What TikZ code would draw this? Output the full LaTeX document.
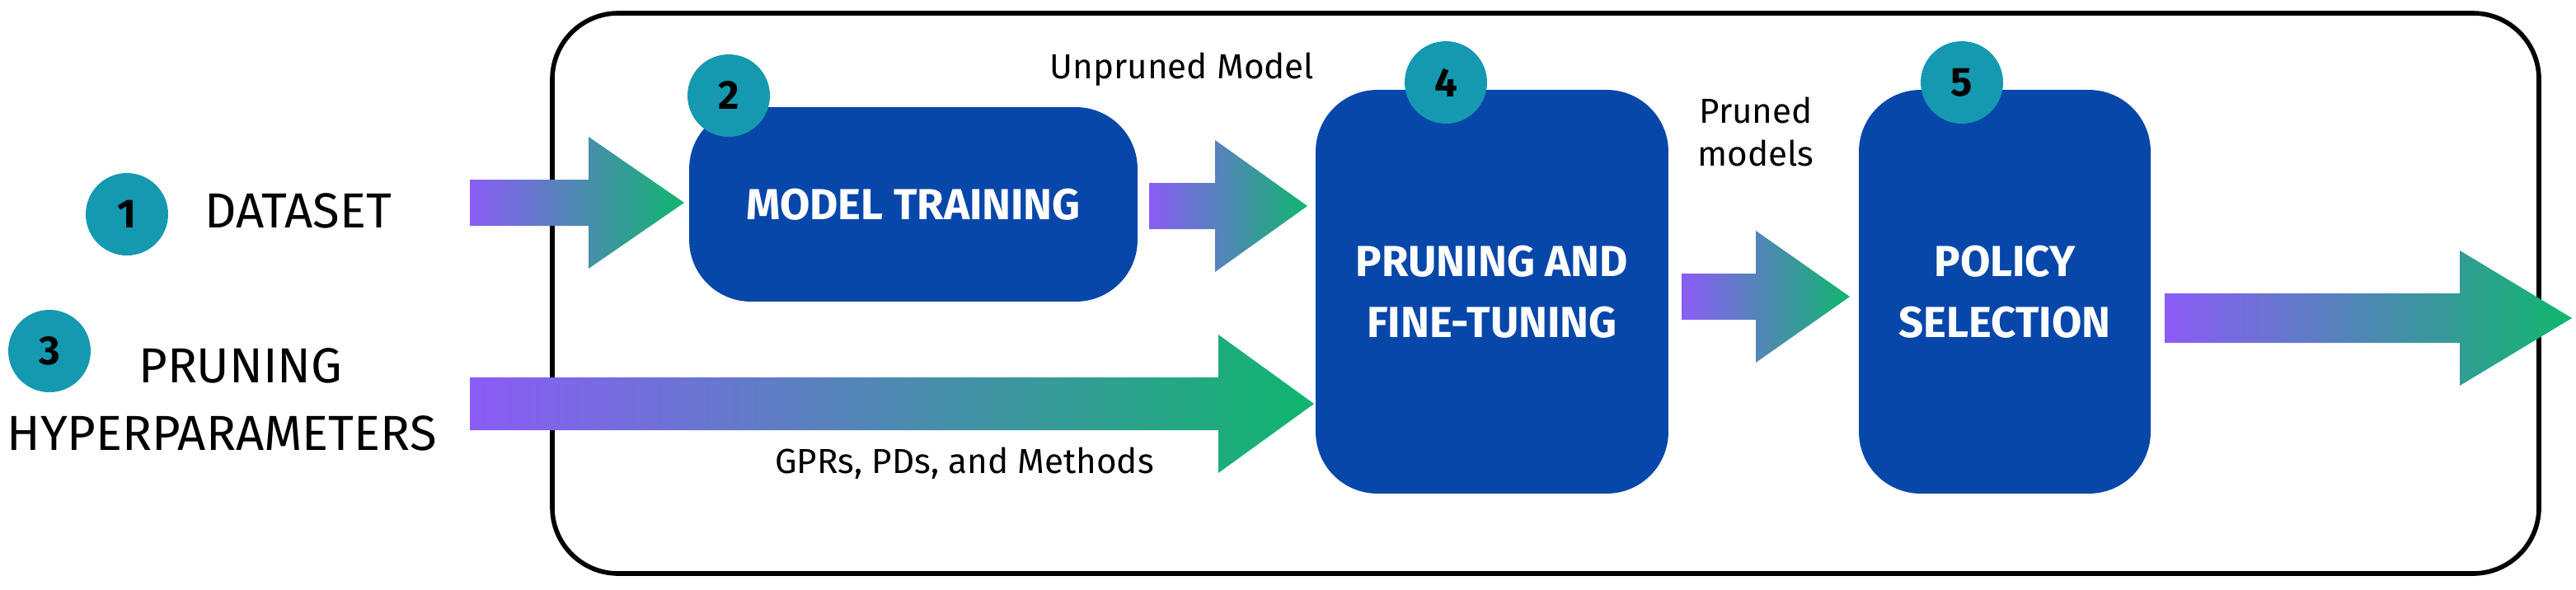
\documentclass[tikz,border=0pt]{standalone}
\usepackage{fontspec}
\setmainfont{Fira Sans}
\definecolor{boxblue}{HTML}{0847AA}
\definecolor{teal1}{HTML}{1499B0}
\definecolor{gpurp}{HTML}{8B5CF6}
\definecolor{ggreen}{HTML}{10B66E}
\newcommand\garrow[6]{% x1,x2,y,shafthalf,headhalf,headlen
  \shade[left color=gpurp,right color=ggreen]
   (#1,#3-#4) -- (#2-#6,#3-#4) -- (#2-#6,#3-#5) -- (#2,#3) -- (#2-#6,#3+#5) -- (#2-#6,#3+#4) -- (#1,#3+#4) -- cycle;}
\begin{document}
\begin{tikzpicture}[x=0.02cm,y=-0.02cm,
  box/.style={draw=none,fill=boxblue,rounded corners=0.75cm,text=white,font=\fontsize{15}{19}\selectfont\bfseries,align=center},
  num/.style={circle,fill=teal1,minimum size=1.0cm,inner sep=0pt,font=\fontsize{14}{16}\selectfont\bfseries},
  lab/.style={font=\fontsize{17}{20}\selectfont,align=left},
  small/.style={font=\fontsize{12}{15}\selectfont,align=center}]
\useasboundingbox (0,0) rectangle (1562.5,357.5);
\draw[line width=1.6pt,rounded corners=0.8cm] (335,8) rectangle (1540,348);
% arrows
\garrow{285}{415}{123}{14}{40}{58}
\garrow{697}{793}{125}{14}{40}{56}
\garrow{285}{797}{245}{16}{42}{58}
\garrow{1020}{1122}{180}{14}{40}{57}
\garrow{1313}{1560}{193}{15}{41}{68}
% boxes
\node[box,minimum width=5.44cm,minimum height=2.36cm] (mt) at (554,124) {MODEL TRAINING};
\node[box,minimum width=4.28cm,minimum height=4.9cm] (pf) at (905,177) {PRUNING AND\\[2pt]FINE-TUNING};
\node[box,minimum width=3.54cm,minimum height=4.9cm] (ps) at (1216,177) {POLICY\\[2pt]SELECTION};
% circles
\node[num] (c1) at (77,130) {1};
\node[num] (c3) at (30,213) {3};
\node[num] (c2) at (442,58) {2};
\node[num] (c4) at (877,50) {4};
\node[num] (c5) at (1190,50) {5};
% labels
\node[lab,anchor=west] (ds) at (118,128) {DATASET};
\node[lab,anchor=west] (ph1) at (78,222) {PRUNING};
\node[lab,anchor=west] (ph2) at (-2,263) {HYPERPARAMETERS};
\node[small] (um) at (717,42) {Unpruned Model};
\node[small] (gp) at (585,281) {GPRs, PDs, and Methods};
\node[small] (pm) at (1065,80) {Pruned\\models};
\end{tikzpicture}
\end{document}
